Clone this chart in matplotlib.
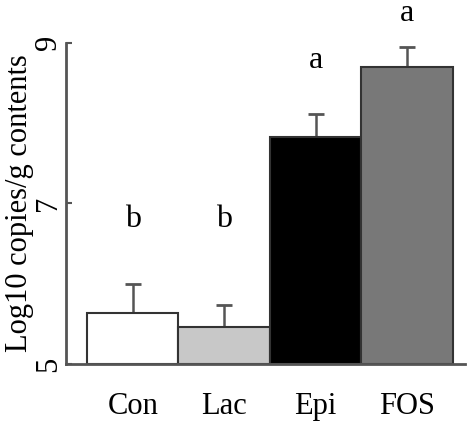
import matplotlib
matplotlib.use("Agg")
import matplotlib.pyplot as plt

# Data
groups = ["Con", "Lac", "Epi", "FOS"]
means = [5.64, 5.46, 7.83, 8.70]
errors = [0.35, 0.27, 0.28, 0.25]
letters = ["b", "b", "a", "a"]
colors = ["#ffffff", "#c8c8c8", "#000000", "#787878"]

plt.rcParams["font.family"] = "Liberation Serif"

fig = plt.figure(figsize=(4.69, 4.21), dpi=100)
ax = fig.add_axes([0.1407, 0.1354, 0.85, 0.763])

x = range(len(groups))
ax.bar(x, [m - 5 for m in means], bottom=5, width=1.0, color=colors,
       edgecolor="#333333", linewidth=1.5, zorder=2)
ax.errorbar(x, means, yerr=[[0] * 4, errors], fmt="none", ecolor="#555555",
            elinewidth=1.8, capsize=6, capthick=2, zorder=1)

# significance letters
letter_y = [6.8, 6.8, 8.78, 9.36]
for xi, (l, ly) in enumerate(zip(letters, letter_y)):
    ax.text(xi, ly, l, ha="center", va="center", fontsize=23, clip_on=False)

ax.set_xlim(-0.73, 3.63)
ax.set_ylim(5, 9)
ax.set_yticks([5, 7, 9])
ax.set_yticklabels(["5", "7", "9"], rotation=90, va="center", fontsize=22)
ax.set_xticks(list(x))
ax.set_xticklabels(groups, fontsize=22)
ax.tick_params(axis="x", length=0, pad=20)
ax.tick_params(axis="y", direction="in", length=4, width=1.5, color="#555555", pad=2)

for s in ["top", "right"]:
    ax.spines[s].set_visible(False)
for s in ["left", "bottom"]:
    ax.spines[s].set_color("#555555")
    ax.spines[s].set_linewidth(2)

ax.set_ylabel("Log10 copies/g contents", fontsize=22, labelpad=0)

fig.savefig("out.png", dpi=100)
